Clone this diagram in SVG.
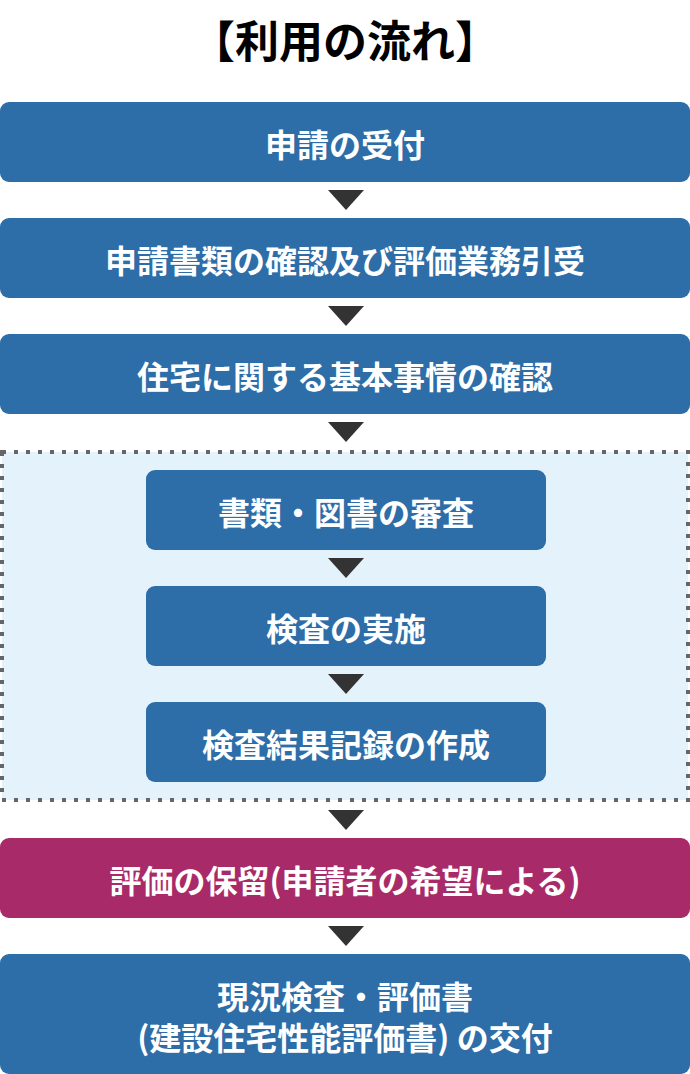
<svg xmlns="http://www.w3.org/2000/svg" width="690" height="1074" viewBox="0 0 690 1074">
<defs>
<style>
.t{font-family:"Noto Sans CJK JP","Noto Sans CJK SC",sans-serif;font-weight:700;text-anchor:middle}
.lbl{fill:#ffffff;font-size:32px}
.blue{fill:#2d6da8}
.mag{fill:#a92a69}
.arr{fill:#333333}
</style>
</defs>
<rect width="690" height="1074" fill="#ffffff"/>
<text class="t" x="345" y="58" font-size="44" fill="#000000">【利用の流れ】</text>
<g id="group-inspection">
<rect x="2" y="452" width="686" height="348" fill="#e4f3fb" stroke="#666666" stroke-width="4" stroke-dasharray="4 8"/>
</g>
<g id="connectors">
<polygon class="arr" points="328,190 364,190 346,210"/>
<polygon class="arr" points="328,306 364,306 346,326"/>
<polygon class="arr" points="328,422 364,422 346,442"/>
<polygon class="arr" points="328,558 364,558 346,578"/>
<polygon class="arr" points="328,674 364,674 346,694"/>
<polygon class="arr" points="328,810 364,810 346,830"/>
<polygon class="arr" points="328,926 364,926 346,946"/>
</g>
<g id="n1"><rect class="blue" x="0" y="102" width="690" height="80" rx="9"/><text class="t lbl" x="345" y="157">申請の受付</text></g>
<g id="n2"><rect class="blue" x="0" y="218" width="690" height="80" rx="9"/><text class="t lbl" x="345" y="273">申請書類の確認及び評価業務引受</text></g>
<g id="n3"><rect class="blue" x="0" y="334" width="690" height="80" rx="9"/><text class="t lbl" x="345" y="389">住宅に関する基本事情の確認</text></g>
<g id="n4"><rect class="blue" x="146" y="470" width="400" height="80" rx="9"/><text class="t lbl" x="346" y="525">書類・図書の審査</text></g>
<g id="n5"><rect class="blue" x="146" y="586" width="400" height="80" rx="9"/><text class="t lbl" x="346" y="641">検査の実施</text></g>
<g id="n6"><rect class="blue" x="146" y="702" width="400" height="80" rx="9"/><text class="t lbl" x="346" y="757">検査結果記録の作成</text></g>
<g id="n7"><rect class="mag" x="0" y="838" width="690" height="80" rx="9"/><text class="t lbl" x="345" y="893">評価の保留(申請者の希望による)</text></g>
<g id="n8"><rect class="blue" x="0" y="954" width="690" height="120" rx="9"/><text class="t lbl" x="345" y="1009">現況検査・評価書<tspan x="345" dy="41">(建設住宅性能評価書) の交付</tspan></text></g>
</svg>
